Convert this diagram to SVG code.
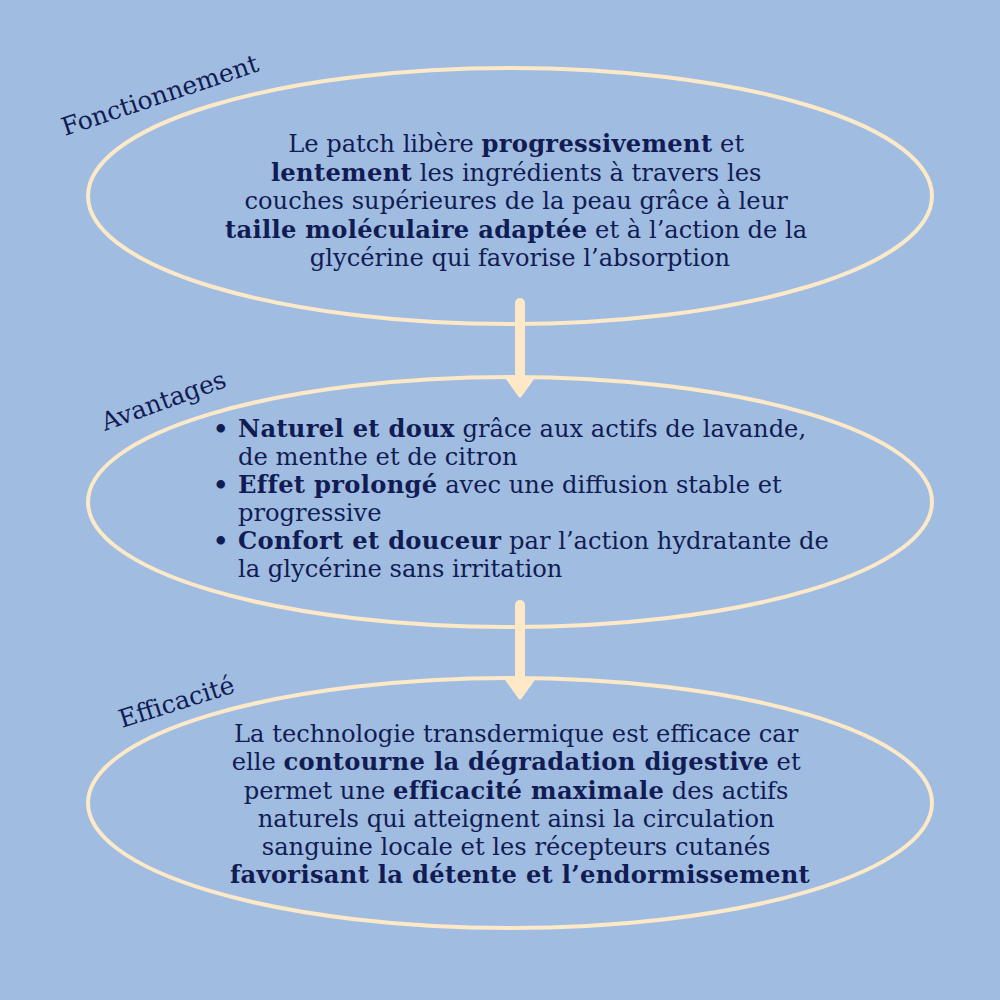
<svg xmlns="http://www.w3.org/2000/svg" width="1000" height="1000" viewBox="0 0 1000 1000">
<style>
.t{font-family:"DejaVu Serif","Liberation Serif",serif;font-size:24.2px;fill:#111c55}
.c{text-anchor:middle}
.b{font-weight:bold;letter-spacing:0.3px}
.bul{font-weight:bold}
.lbl{font-family:"DejaVu Serif","Liberation Serif",serif;font-size:25px;fill:#111c55}
.ell{fill:none;stroke:#fde8c8;stroke-width:4}
.shaft{stroke:#fde8c8;stroke-width:10;stroke-linecap:round}
.head{fill:#fde8c8;stroke:#fde8c8;stroke-width:3;stroke-linejoin:round}
</style>
<rect width="1000" height="1000" fill="#a0bce0"/>
<g id="node-fonctionnement">
<ellipse class="ell" cx="510" cy="196" rx="422" ry="128"/>
<text class="lbl" transform="translate(65,136) rotate(-18.5)">Fonctionnement</text>
<text class="t c">
<tspan x="520" y="152">Le patch libère <tspan class="b">progressivement</tspan> et</tspan>
<tspan x="520" y="180.5"><tspan class="b">lentement</tspan> les ingrédients à travers les</tspan>
<tspan x="520" y="209">couches supérieures de la peau grâce à leur</tspan>
<tspan x="520" y="237.5"><tspan class="b">taille moléculaire adaptée</tspan> et à l’action de la</tspan>
<tspan x="520" y="266">glycérine qui favorise l’absorption</tspan>
</text>
</g>
<g id="node-avantages">
<ellipse class="ell" cx="510" cy="502" rx="422" ry="125"/>
<text class="lbl" transform="translate(105,431) rotate(-20)">Avantages</text>
<text class="t">
<tspan class="bul" x="213" y="437">•</tspan>
<tspan x="238" y="437"><tspan class="b">Naturel et doux</tspan> grâce aux actifs de lavande,</tspan>
<tspan x="238" y="465">de menthe et de citron</tspan>
<tspan class="bul" x="213" y="493">•</tspan>
<tspan x="238" y="493"><tspan class="b">Effet prolongé</tspan> avec une diffusion stable et</tspan>
<tspan x="238" y="521">progressive</tspan>
<tspan class="bul" x="213" y="549">•</tspan>
<tspan x="238" y="549"><tspan class="b">Confort et douceur</tspan> par l’action hydratante de</tspan>
<tspan x="238" y="577">la glycérine sans irritation</tspan>
</text>
</g>
<g id="node-efficacite">
<ellipse class="ell" cx="510" cy="803" rx="422" ry="125"/>
<text class="lbl" transform="translate(122,728) rotate(-17.5)">Efficacité</text>
<text class="t c">
<tspan x="520" y="742">La technologie transdermique est efficace car</tspan>
<tspan x="520" y="770">elle <tspan class="b">contourne la dégradation digestive</tspan> et</tspan>
<tspan x="520" y="798.5">permet une <tspan class="b">efficacité maximale</tspan> des actifs</tspan>
<tspan x="520" y="827">naturels qui atteignent ainsi la circulation</tspan>
<tspan x="520" y="855">sanguine locale et les récepteurs cutanés</tspan>
<tspan x="520" y="883" class="b">favorisant la détente et l’endormissement</tspan>
</text>
</g>
<g id="connectors">
<line class="shaft" x1="520" y1="303" x2="520" y2="380"/>
<path class="head" d="M507,378 L533,378 L520,396 Z"/>
<line class="shaft" x1="520" y1="605" x2="520" y2="682"/>
<path class="head" d="M507,680 L533,680 L520,698 Z"/>
</g>
</svg>
